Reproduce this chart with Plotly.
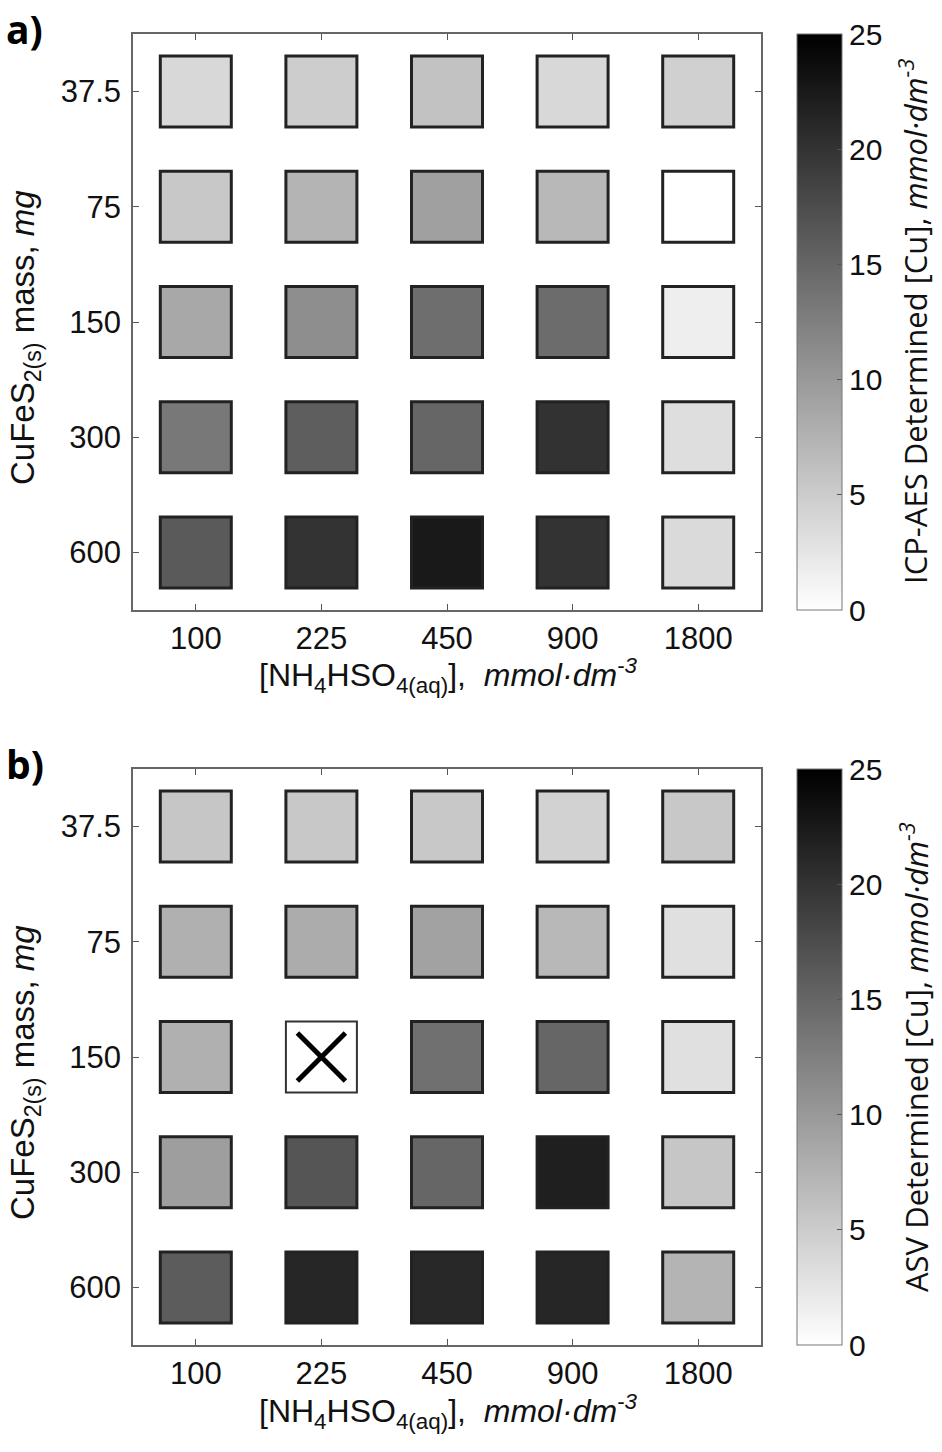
import plotly.graph_objects as go

# ---- data ----
x_labels = ["100", "225", "450", "900", "1800"]          # [NH4HSO4], mmol/dm3
y_labels = ["37.5", "75", "150", "300", "600"]           # CuFeS2 mass, mg

icp_values = [
    [3.8, 4.9, 6.0, 3.8, 4.6],
    [5.4, 7.4, 9.3, 7.0, 0.0],
    [8.5, 11.1, 14.2, 14.4, 1.7],
    [13.2, 15.8, 15.0, 20.1, 3.2],
    [16.2, 20.0, 22.5, 20.0, 3.6],
]
asv_values = [
    [5.6, 5.4, 5.4, 4.4, 5.4],
    [7.7, 8.1, 9.1, 7.0, 3.0],
    [7.7, None, 14.0, 15.0, 3.0],
    [9.5, 16.7, 15.0, 22.0, 5.6],
    [16.0, 21.3, 21.1, 21.3, 7.4],
]
cbar_ticks = [0, 5, 10, 15, 20, 25]

FONT = "Liberation Sans"
W, H = 942, 1452


def py(px):
    return 1 - px / H


def px_x(px):
    return px / W


fig = go.Figure()

panels = [
    (icp_values, "x", "y", "coloraxis"),
    (asv_values, "x2", "y2", "coloraxis2"),
]

for values, xa, ya, ca in panels:
    xs, ys, cs = [], [], []
    mx, my = [], []
    for i, yl in enumerate(y_labels):
        for j, xl in enumerate(x_labels):
            v = values[i][j]
            if v is None:
                mx.append(xl)
                my.append(yl)
            else:
                xs.append(xl)
                ys.append(yl)
                cs.append(v)
    fig.add_trace(go.Scatter(
        x=xs, y=ys, mode="markers", xaxis=xa, yaxis=ya, showlegend=False,
        marker=dict(symbol="square", size=71, color=cs, coloraxis=ca,
                    line=dict(color="#222222", width=3)),
        hoverinfo="x+y+text", text=[f"{c}" for c in cs],
    ))
    if mx:
        fig.add_trace(go.Scatter(
            x=mx, y=my, mode="markers", xaxis=xa, yaxis=ya, showlegend=False,
            marker=dict(symbol="square", size=71, color="white",
                        line=dict(color="#333333", width=2)),
            hoverinfo="skip",
        ))
        fig.add_trace(go.Scatter(
            x=mx, y=my, mode="markers", xaxis=xa, yaxis=ya, showlegend=False,
            marker=dict(symbol="x-thin-open", size=48, color="black",
                        line=dict(color="black", width=5)),
            hoverinfo="skip",
        ))

axis_common = dict(
    type="category", showline=True, mirror="ticks", ticks="inside",
    ticklen=6, tickwidth=1, tickcolor="#555555", linecolor="#666666",
    linewidth=1.5, showgrid=False, zeroline=False,
    tickfont=dict(family=FONT, size=31, color="#111111"),
)

xdom = [px_x(133), px_x(761)]
ydom_a = [py(610), py(34)]
ydom_b = [py(1345), py(769)]

fig.update_layout(
    width=W, height=H,
    margin=dict(l=0, r=0, t=0, b=0),
    paper_bgcolor="white", plot_bgcolor="white",
    xaxis=dict(axis_common, domain=xdom, anchor="y", range=[-0.5, 4.5],
               categoryorder="array", categoryarray=x_labels, ticklabelstandoff=0),
    yaxis=dict(axis_common, domain=ydom_a, anchor="x", range=[4.5, -0.5],
               categoryorder="array", categoryarray=y_labels, ticklabelstandoff=4),
    xaxis2=dict(axis_common, domain=xdom, anchor="y2", range=[-0.5, 4.5],
                categoryorder="array", categoryarray=x_labels, ticklabelstandoff=0),
    yaxis2=dict(axis_common, domain=ydom_b, anchor="x2", range=[4.5, -0.5],
                categoryorder="array", categoryarray=y_labels, ticklabelstandoff=4),
)

cb_common = dict(
    x=px_x(797), xanchor="left", xpad=0, ypad=0,
    thickness=45, thicknessmode="pixels",
    len=576 / H, lenmode="fraction", yanchor="middle",
    outlinewidth=1, outlinecolor="#777777",
    tickmode="array", tickvals=cbar_ticks, ticks="inside", ticklen=5,
    tickcolor="#555555",
    tickfont=dict(family=FONT, size=30, color="#111111"),
)

fig.update_layout(
    coloraxis=dict(colorscale=[[0, "#ffffff"], [1, "#000000"]], cmin=0, cmax=25,
                   colorbar=dict(cb_common, y=py((34 + 610) / 2))),
    coloraxis2=dict(colorscale=[[0, "#ffffff"], [1, "#000000"]], cmin=0, cmax=25,
                    colorbar=dict(cb_common, y=py((769 + 1345) / 2))),
)

xtitle = "[NH<sub>4</sub>HSO<sub>4(aq)</sub>],  <i>mmol·dm<sup>-3</sup></i>"
ytitle = "CuFeS<sub>2(s)</sub> mass, <i>mg</i>"
cb_titles = [
    "ICP-AES Determined [Cu], <i>mmol·dm<sup>-3</sup></i>",
    "ASV Determined [Cu], <i>mmol·dm<sup>-3</sup></i>",
]
panel_labels = ["<b>a)</b>", "<b>b)</b>"]

annotations = []
for k, off in enumerate([0, 735]):
    annotations.append(dict(
        text=xtitle, x=px_x(448), y=py(676 + off), xref="paper", yref="paper",
        xanchor="center", yanchor="middle", showarrow=False,
        font=dict(family=FONT, size=32, color="#111111")))
    annotations.append(dict(
        text=ytitle, x=px_x(25), y=py(338 + off), xref="paper", yref="paper",
        xanchor="center", yanchor="middle", showarrow=False, textangle=-90,
        font=dict(family=FONT, size=33, color="#111111")))
    annotations.append(dict(
        text=cb_titles[k], x=px_x(914), y=py(322 + off), xref="paper", yref="paper",
        xanchor="center", yanchor="middle", showarrow=False, textangle=-90,
        font=dict(family="Open Sans", size=31, color="#111111")))
    annotations.append(dict(
        text=panel_labels[k], x=px_x(4), y=py(0 + off), xref="paper", yref="paper",
        xanchor="left", yanchor="top", showarrow=False,
        font=dict(family="Open Sans", size=39, color="#000000")))

fig.update_layout(annotations=annotations)

fig.write_html("out.html", config={"displayModeBar": False},
               post_script="document.body.style.margin='0px';document.body.style.overflow='hidden';")
